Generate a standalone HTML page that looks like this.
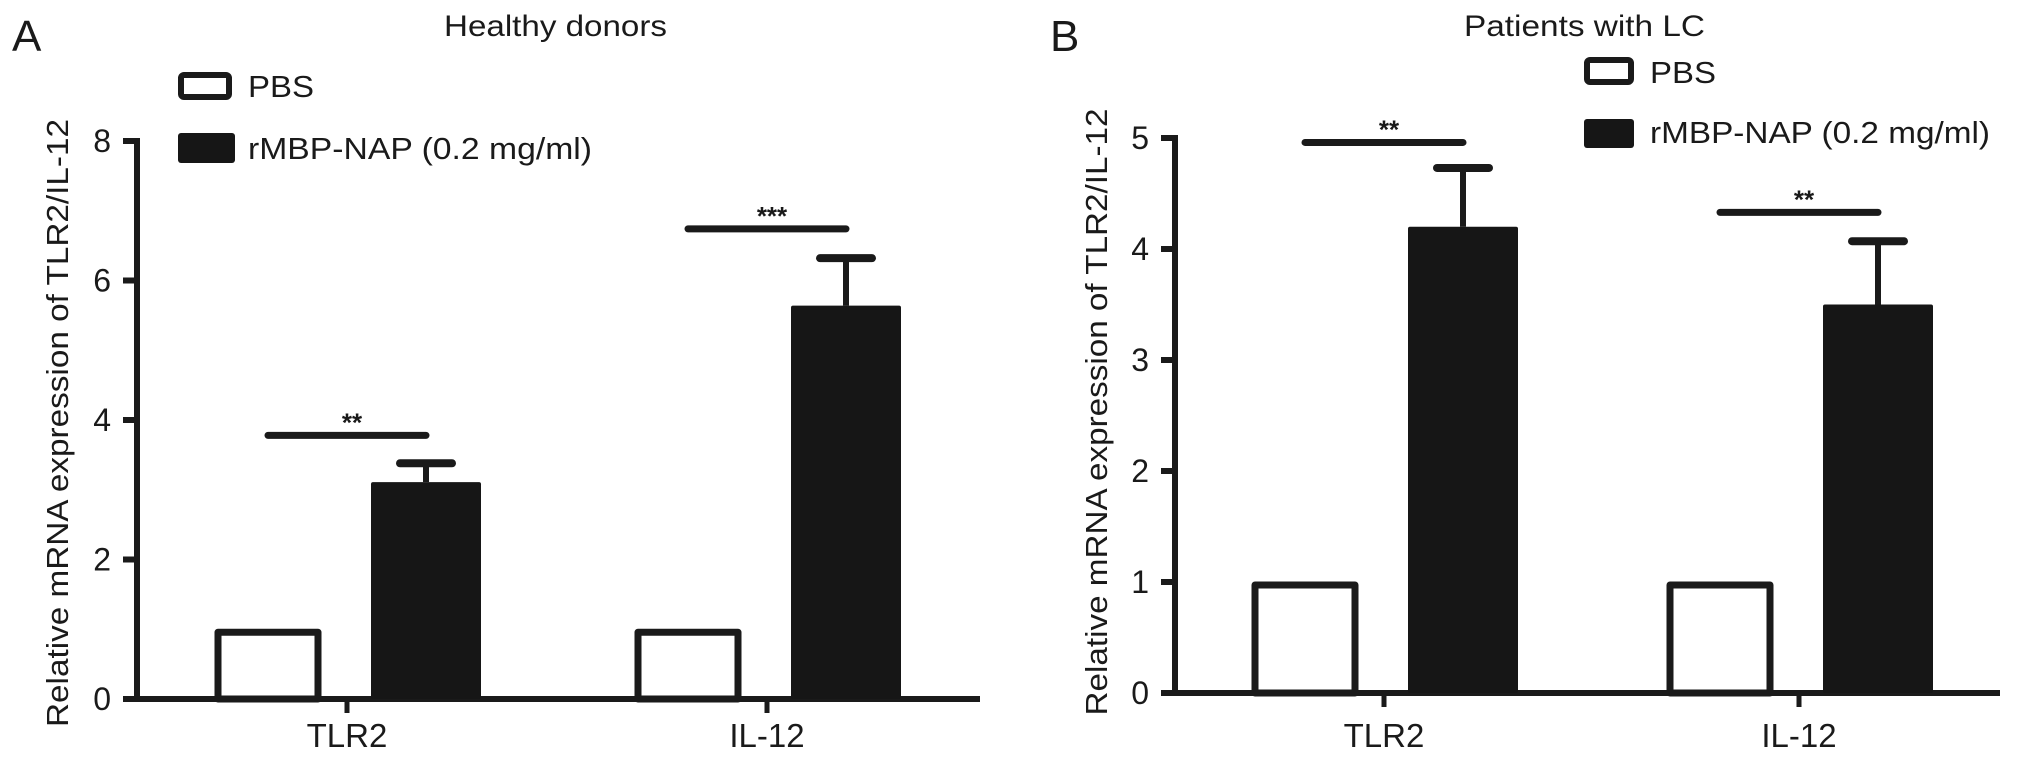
<!DOCTYPE html>
<html><head><meta charset="utf-8">
<style>
html,body{margin:0;padding:0;background:#fff;}
svg{display:block;}
text{font-family:"Liberation Sans",Arial,sans-serif;fill:#1a1a1a;}
</style></head>
<body>
<svg id="fig" width="2032" height="759" viewBox="0 0 2032 759" xmlns="http://www.w3.org/2000/svg">
  <g id="panelA">
    <text x="12" y="51" font-size="44">A</text>
    <text x="444" y="36" font-size="30" textLength="223" lengthAdjust="spacingAndGlyphs">Healthy donors</text>
    <rect x="181" y="75" width="48" height="22" rx="3" fill="#fff" stroke="#1a1a1a" stroke-width="6"/>
    <text x="248" y="97" font-size="31" textLength="66" lengthAdjust="spacingAndGlyphs">PBS</text>
    <rect x="178" y="133" width="57" height="30" rx="3" fill="#161616"/>
    <text x="248" y="159" font-size="31" textLength="344" lengthAdjust="spacingAndGlyphs">rMBP-NAP (0.2 mg/ml)</text>
    <text transform="translate(68,423) rotate(-90)" text-anchor="middle" font-size="31" textLength="608" lengthAdjust="spacingAndGlyphs">Relative mRNA expression of TLR2/IL-12</text>
  </g>
  <g id="panelB">
    <text x="1050" y="51" font-size="44">B</text>
    <text x="1464" y="36" font-size="30" textLength="241" lengthAdjust="spacingAndGlyphs">Patients with LC</text>
    <rect x="1587" y="60" width="44" height="22" rx="3" fill="#fff" stroke="#1a1a1a" stroke-width="6"/>
    <text x="1650" y="83" font-size="31" textLength="66" lengthAdjust="spacingAndGlyphs">PBS</text>
    <rect x="1584" y="119" width="50" height="29" rx="3" fill="#161616"/>
    <text x="1650" y="143" font-size="31" textLength="340" lengthAdjust="spacingAndGlyphs">rMBP-NAP (0.2 mg/ml)</text>
    <text transform="translate(1107,412) rotate(-90)" text-anchor="middle" font-size="31" textLength="607" lengthAdjust="spacingAndGlyphs">Relative mRNA expression of TLR2/IL-12</text>
  </g>
</svg>
<script>
const categories = ["TLR2", "IL-12"];
const aPBS = [1, 1];
const aNAP = [3.11, 5.64];
const aErr = [0.27, 0.68];
const aSig = [3.78, 6.74];
const aStars = ["**", "***"];
const aTicks = [0, 2, 4, 6, 8];
const bPBS = [1, 1];
const bNAP = [4.20, 3.50];
const bErr = [0.53, 0.57];
const bSig = [4.96, 4.33];
const bStars = ["**", "**"];
const bTicks = [0, 1, 2, 3, 4, 5];

const NS = "http://www.w3.org/2000/svg";
function mk(parent, tag, attrs, txt) {
  const e = document.createElementNS(NS, tag);
  for (const k in attrs) e.setAttribute(k, attrs[k]);
  if (txt !== undefined) e.textContent = txt;
  parent.appendChild(e);
  return e;
}
const INK = "#1a1a1a";

function drawPanel(g, cfg, pbs, nap, err, sig, stars, ticks) {
  const y = v => cfg.y0 - v * cfg.unit;
  const x = i => cfg.x0 + i * cfg.step;
  // y-axis
  let e = mk(g, "line", {x1: cfg.ax, y1: y(ticks[ticks.length-1]) - 3, x2: cfg.ax, y2: cfg.y0 + 3, stroke: INK, "stroke-width": 6});
  
  
  ticks.forEach(t => {
    const tl = mk(g, "line", {x1: cfg.ax - 14, y1: y(t), x2: cfg.ax, y2: y(t), stroke: INK, "stroke-width": 6});
    
    
    const tx = mk(g, "text", {x: cfg.ax - 26, y: y(t) + 11, "text-anchor": "end", "font-size": 32}, String(t));
    
    
  });
  // x-axis
  e = mk(g, "line", {x1: cfg.ax - 14, y1: cfg.y0, x2: cfg.xEnd, y2: cfg.y0, stroke: INK, "stroke-width": 6});
  
  
  categories.forEach((c, i) => {
    const cx = x(i);
    const tk = mk(g, "line", {x1: cx, y1: cfg.y0, x2: cx, y2: cfg.y0 + 14, stroke: INK, "stroke-width": 5});
    
    
    const lb = mk(g, "text", {x: cx, y: 747, "text-anchor": "middle", "font-size": 33}, c);
    
    
    // PBS bar (outlined)
    const pc = cx - cfg.off;
    const pb = mk(g, "rect", {x: pc - 50, y: y(pbs[i]) + 3, width: 100, height: cfg.y0 - y(pbs[i]) - 3, fill: "#fff", stroke: INK, "stroke-width": 7, "stroke-linejoin": "round"});
    
    
    // NAP bar (filled)
    const nc = cx + cfg.off;
    const nb = mk(g, "rect", {x: nc - 55, y: y(nap[i]), width: 110, height: cfg.y0 - y(nap[i]), fill: "#161616", rx: 2});
    
    
    // error bar
    const eb = mk(g, "line", {x1: nc, y1: y(nap[i]), x2: nc, y2: y(nap[i] + err[i]), stroke: INK, "stroke-width": 6});
    
    
    const ec = mk(g, "line", {x1: nc - 26, y1: y(nap[i] + err[i]), x2: nc + 26, y2: y(nap[i] + err[i]), stroke: INK, "stroke-width": 8, "stroke-linecap": "round"});
    
    
    // significance line
    const sl = mk(g, "line", {x1: pc, y1: y(sig[i]), x2: nc, y2: y(sig[i]), stroke: INK, "stroke-width": 7, "stroke-linecap": "round"});
    
    
    const st = mk(g, "text", {x: (pc + nc) / 2 + 5, y: y(sig[i]) - 4, "text-anchor": "middle", "font-size": 26, "font-weight": "bold"}, stars[i]);
    
    
  });
}

drawPanel(document.getElementById("panelA"),
  {y0: 699, unit: 69.75, ax: 137, x0: 347, step: 420, off: 79, xEnd: 980},
  aPBS, aNAP, aErr, aSig, aStars, aTicks);
drawPanel(document.getElementById("panelB"),
  {y0: 693, unit: 111, ax: 1175, x0: 1384, step: 415, off: 79, xEnd: 2000},
  bPBS, bNAP, bErr, bSig, bStars, bTicks);
</script>
</body></html>
